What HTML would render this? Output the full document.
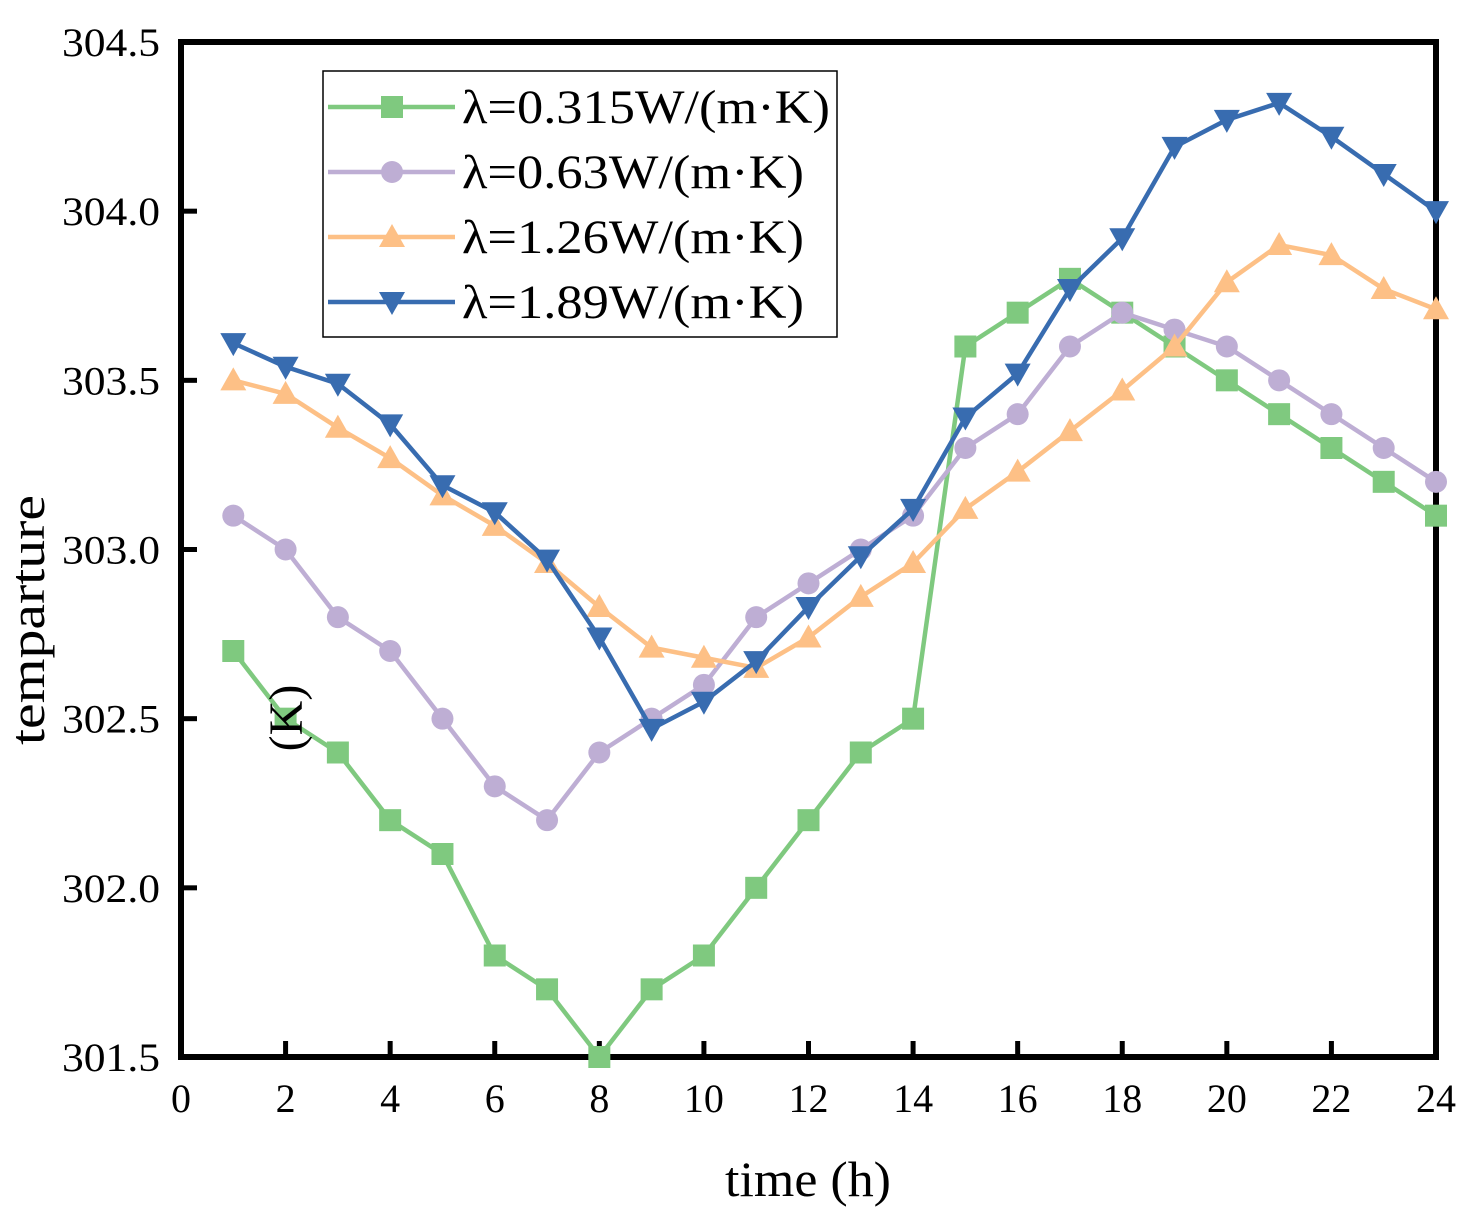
<!DOCTYPE html>
<html><head><meta charset="utf-8"><style>
body{margin:0;background:#fff}
svg{display:block;font-family:"Liberation Serif",serif}
</style></head><body>
<svg id="chart" width="1476" height="1220" xmlns="http://www.w3.org/2000/svg">
<g id="grid"></g><g id="series"></g>
<g id="legend"></g>
</svg>
<script>
const hours=[1,2,3,4,5,6,7,8,9,10,11,12,13,14,15,16,17,18,19,20,21,22,23,24];
const s315=[302.7,302.5,302.4,302.2,302.1,301.8,301.7,301.5,301.7,301.8,302.0,302.2,302.4,302.5,303.6,303.7,303.8,303.7,303.6,303.5,303.4,303.3,303.2,303.1];
const s063=[303.1,303.0,302.8,302.7,302.5,302.3,302.2,302.4,302.5,302.6,302.8,302.9,303.0,303.1,303.3,303.4,303.6,303.7,303.65,303.6,303.5,303.4,303.3,303.2];
const s126=[303.5,303.46,303.36,303.27,303.16,303.07,302.96,302.83,302.71,302.68,302.65,302.74,302.86,302.96,303.12,303.23,303.35,303.47,303.6,303.79,303.9,303.87,303.77,303.71];
const s189=[303.61,303.54,303.49,303.37,303.19,303.11,302.97,302.74,302.47,302.55,302.67,302.83,302.98,303.12,303.39,303.52,303.77,303.92,304.19,304.27,304.32,304.22,304.11,304.0];
const xTicks=[0,2,4,6,8,10,12,14,16,18,20,22,24];
const yTicks=[301.5,302.0,302.5,303.0,303.5,304.0,304.5];
const legendLabels=["λ=0.315W/(m·K)","λ=0.63W/(m·K)","λ=1.26W/(m·K)","λ=1.89W/(m·K)"];
const NS="http://www.w3.org/2000/svg";
const X0=181,X1=1436,Y0=1057,Y1=42;
const xs=v=>X0+(v-0)/24*(X1-X0);
const ys=v=>Y0-(v-301.5)/3*(Y0-Y1);
const svg=document.getElementById('chart');
function mk(t,a,p){const e=document.createElementNS(NS,t);for(const k in a)e.setAttribute(k,a[k]);(p||svg).appendChild(e);return e;}
const grid=document.getElementById('grid');
xTicks.forEach(t=>{
 const l=mk('line',{x1:xs(t),x2:xs(t),y1:Y0,y2:Y0-16,stroke:'#000','stroke-width':5},grid);
 
 
 const tx=mk('text',{x:xs(t),y:1112,'text-anchor':'middle','font-size':40},grid);tx.textContent=t;
 
 
});
yTicks.forEach(t=>{
 const l=mk('line',{x1:X0,x2:X0+16,y1:ys(t),y2:ys(t),stroke:'#000','stroke-width':5},grid);
 
 
 const tx=mk('text',{x:160,y:ys(t)+14,'text-anchor':'end','font-size':40,textLength:98,lengthAdjust:'spacingAndGlyphs'},grid);tx.textContent=t.toFixed(1);
 
 
});
const fr=mk('rect',{x:X0,y:Y1,width:X1-X0,height:Y0-Y1,fill:'none',stroke:'#000','stroke-width':6},grid);


const xl=mk('text',{x:808,y:1196,'text-anchor':'middle','font-size':50,textLength:166,lengthAdjust:'spacingAndGlyphs'});xl.textContent='time (h)';


const yl=mk('text',{x:0,y:0,'text-anchor':'middle','font-size':50,textLength:250,lengthAdjust:'spacingAndGlyphs',transform:'translate(44,620) rotate(-90)'});yl.textContent='temparture';


const ku=mk('text',{x:0,y:0,'text-anchor':'middle','font-size':48,transform:'translate(302,718) rotate(-90)'});ku.textContent='(K)';


const ser=document.getElementById('series');
const colors=['#7fc97f','#beaed4','#fdc086','#386cb0'];
const data=[s315,s063,s126,s189];
const shapes=['sq','ci','up','dn'];
function marker(shape,x,y,c,p){
 if(shape==='sq')return mk('rect',{x:x-11,y:y-11,width:22,height:22,fill:c},p);
 if(shape==='ci')return mk('circle',{cx:x,cy:y,r:11,fill:c},p);
 if(shape==='up')return mk('polygon',{points:`${x},${y-13} ${x-13},${y+10} ${x+13},${y+10}`,fill:c},p);
 return mk('polygon',{points:`${x},${y+13} ${x-13},${y-10} ${x+13},${y-10}`,fill:c},p);
}
[0,1,2,3].forEach(i=>{
 const g=mk('g',{},ser);
 
 
 const pts=hours.map((h,j)=>xs(h)+','+ys(data[i][j])).join(' ');
 const pl=mk('polyline',{points:pts,fill:'none',stroke:colors[i],'stroke-width':4.5},g);
 
 
 hours.forEach((h,j)=>{
  const m=marker(shapes[i],xs(h),ys(data[i][j]),colors[i],g);
  
  
 });
});
const lg=document.getElementById('legend');
const lb=mk('rect',{x:323,y:71,width:514,height:266,fill:'#fff',stroke:'#000','stroke-width':1.5},lg);


const legendLens=[368,342,342,342];
legendLabels.forEach((t,i)=>{
 const y=107+i*65;
 const g=mk('g',{},lg);
 
 
 mk('line',{x1:328,x2:455,y1:y,y2:y,stroke:colors[i],'stroke-width':4.5},g);
 marker(shapes[i],392,y,colors[i],g);
 const tx=mk('text',{x:462,y:y+16,'font-size':48,textLength:legendLens[i],lengthAdjust:'spacingAndGlyphs'},g);tx.textContent=t;
});
</script>
</body></html>
